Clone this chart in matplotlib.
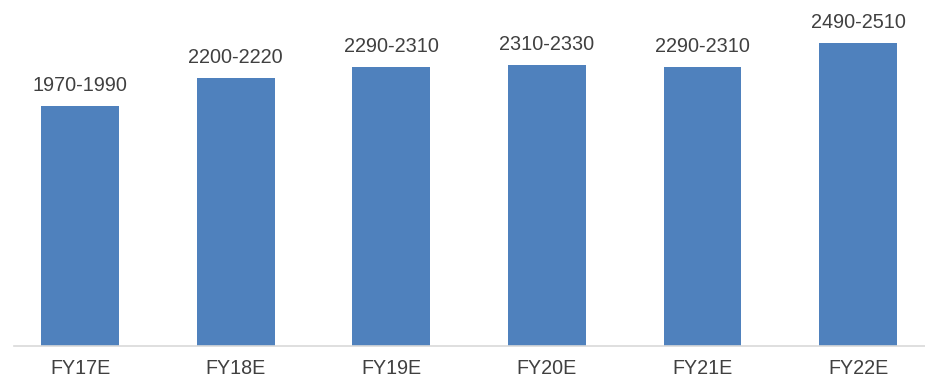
import matplotlib
matplotlib.use("Agg")
import matplotlib.pyplot as plt

categories = ["FY17E", "FY18E", "FY19E", "FY20E", "FY21E", "FY22E"]
range_labels = ["1970-1990", "2200-2220", "2290-2310", "2310-2330", "2290-2310", "2490-2510"]
midpoints = [1980, 2210, 2300, 2320, 2300, 2500]

plt.rcParams["font.family"] = ["Liberation Sans", "DejaVu Sans"]

W, H = 925, 381
fig = plt.figure(figsize=(W / 100, H / 100), dpi=100)
# axes spans from the baseline up to the top edge
ax_left, ax_bottom = 14 / W, (H - 346) / H
ax = fig.add_axes([ax_left, ax_bottom, 1 - ax_left, 1 - ax_bottom])

spacing = 155.6
first_center = 80
x = list(range(len(categories)))
ax.bar(x, midpoints, width=0.5, color="#4F81BD", zorder=2)

ax.set_xlim((14 - first_center) / spacing, (W - first_center) / spacing)
ax.set_ylim(0, 2500 * 346 / 303)

for xi, v, lab in zip(x, midpoints, range_labels):
    ax.annotate(lab, (xi, v), xytext=(0, 8), textcoords="offset points",
                ha="center", va="bottom", fontsize=14.3, color="#404040")

ax.set_xticks(x)
ax.set_xticklabels(categories, fontsize=14.2, color="#404040")
ax.tick_params(axis="x", length=0, pad=9)
ax.set_yticks([])
for s in ["top", "right", "left"]:
    ax.spines[s].set_visible(False)
ax.spines["bottom"].set_color("#D9D9D9")
ax.spines["bottom"].set_linewidth(1.2)

fig.savefig("out.png", dpi=100)
